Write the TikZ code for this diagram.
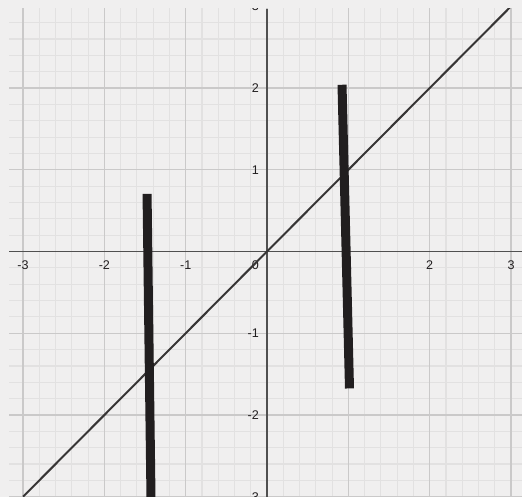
\documentclass[tikz,border=0pt]{standalone}
\usepackage{fontspec}
\setmainfont{Liberation Sans}
\usetikzlibrary{calc}
\definecolor{paper}{RGB}{240,239,239}
\definecolor{minorgrid}{RGB}{226,225,225}
\definecolor{majorgrid}{RGB}{202,201,201}
\definecolor{axisgray}{RGB}{80,80,80}
\definecolor{ink}{RGB}{33,30,31}

\begin{document}
\begin{tikzpicture}[x=2cm, y=2.01cm,
    ticklabel/.style={font=\fontsize{8.8}{10}\selectfont, text=ink, inner sep=0pt}]
    \useasboundingbox (-3.283,-3.0) rectangle (3.135,3.077);
    \fill[paper] (-3.283,-3.0) rectangle (3.135,3.077);
    \begin{scope}
        \clip (-3.172,-3.0) rectangle (3.135,2.967);
        % Grid
        \draw[minorgrid, line width=0.8pt] (-3.4,-3.4) grid[step=0.2] (3.4,3.4);
        \draw[majorgrid, line width=1pt] (-3.4,-3.4) grid[step=1] (3.4,3.4);
        % Axes
        \coordinate (xmin) at (-3.172,0);
        \coordinate (xmax) at (3.135,0);
        \coordinate (ymin) at (0,-3.0);
        \coordinate (ymax) at (0,2.967);
        \draw[axisgray, line width=1.1pt] (xmin) -- (xmax);
        \draw[axisgray, line width=1.1pt] (ymin) -- (ymax);
        % Tick labels
        \foreach \x in {-3,-2,-1,1,2,3}
            \node[ticklabel] (xl\x) at (\x,-0.165) {\x};
        \foreach \y in {-3,-2,-1,1,2,3}
            \node[ticklabel, anchor=east] (yl\y) at (-0.098,\y) {\y};
        \node[ticklabel, anchor=east] (zero) at (-0.098,-0.165) {0};
        % Line y = x
        \coordinate (dlo) at (-3,-3);
        \coordinate (dhi) at (3,3);
        \draw[ink!90, line width=1.4pt] (dlo) -- (dhi);
        % Thick segments
        \coordinate (atop) at (-1.475,0.705);
        \coordinate (abot) at (-1.426,-3.05);
        \coordinate (btop) at (0.922,2.04);
        \coordinate (bbot) at (1.014,-1.675);
        \draw[ink, line width=6.3pt] (atop) -- (abot);
        \draw[ink, line width=6.3pt] (btop) -- (bbot);
    \end{scope}
\end{tikzpicture}
\end{document}
